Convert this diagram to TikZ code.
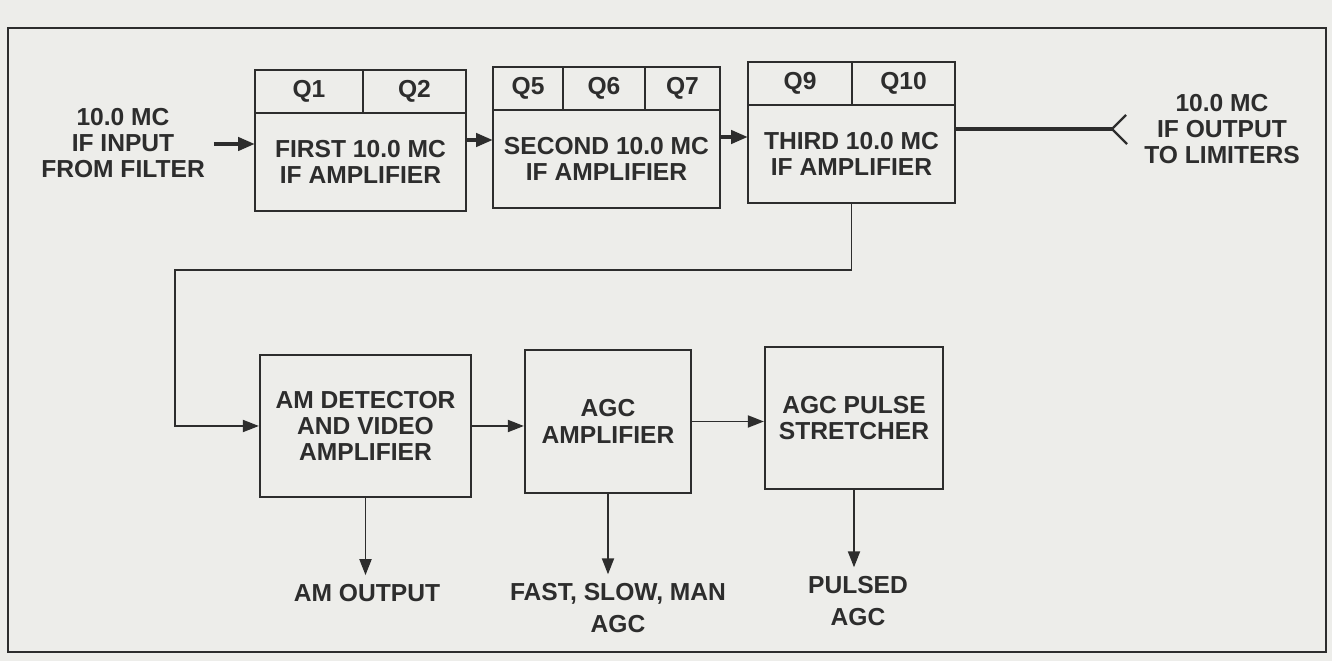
\documentclass[tikz,border=0pt]{standalone}
\usepackage{fontspec}
\setmainfont{Liberation Sans}
\usetikzlibrary{arrows.meta,positioning}
\definecolor{paper}{RGB}{237,237,234}
\definecolor{ink}{RGB}{45,45,45}
\begin{document}
\begin{tikzpicture}[
    x=0.02cm, y=-0.02cm,
    myblock/.style={draw=ink, line width=1.3pt, inner sep=0pt, align=center, text=ink,
        font=\fontsize{14}{15}\selectfont\bfseries},
    mycell/.style={myblock, outer sep=0pt, minimum height=0.86cm, anchor=south west},
    mylabel/.style={align=center, text=ink, inner sep=5pt,
        font=\fontsize{14}{15}\selectfont\bfseries},
    myarrow/.style={-{Triangle[length=3.2mm,width=2.4mm]}, draw=ink, line width=1.1pt},
    mythick/.style={-{Triangle[length=3.4mm,width=2.6mm]}, draw=ink, line width=2.4pt}
]
    % Paper and frame
    \useasboundingbox (0,0) rectangle (1332,661);
    \fill[paper] (0,0) rectangle (1332,661);
    \draw[ink, line width=1.1pt] (8,28) rectangle (1326,652);

    % IF amplifier chain
    \node[myblock, outer sep=0pt, minimum width=4.22cm, minimum height=1.96cm] (first) at (360.5,162) {FIRST 10.0 MC\\IF AMPLIFIER};
    \node[mycell, minimum width=2.16cm] (q1) at (first.north west) {Q1};
    \node[mycell, minimum width=2.06cm] (q2) at (q1.south east) {Q2};

    \node[myblock, outer sep=0pt, minimum width=4.54cm, minimum height=1.96cm] (second) at (606.5,159) {SECOND 10.0 MC\\IF AMPLIFIER};
    \node[mycell, minimum width=1.40cm] (q5) at (second.north west) {Q5};
    \node[mycell, minimum width=1.64cm] (q6) at (q5.south east) {Q6};
    \node[mycell, minimum width=1.50cm] (q7) at (q6.south east) {Q7};

    \node[myblock, outer sep=0pt, minimum width=4.14cm, minimum height=1.96cm] (third) at (851.5,154) {THIRD 10.0 MC\\IF AMPLIFIER};
    \node[mycell, minimum width=2.08cm] (q9) at (third.north west) {Q9};
    \node[mycell, minimum width=2.06cm] (q10) at (q9.south east) {Q10};

    % Detector and AGC chain
    \node[myblock, minimum width=4.22cm, minimum height=2.84cm] (amdet) at (365.5,426) {AM DETECTOR\\AND VIDEO\\AMPLIFIER};
    \node[myblock, minimum width=3.32cm, minimum height=2.86cm] (agcamp) at (608,421.5) {AGC\\AMPLIFIER};
    \node[myblock, minimum width=3.56cm, minimum height=2.84cm] (stretch) at (854,418) {AGC PULSE\\STRETCHER};

    % Inputs and outputs
    \node[mylabel] (ifin) at (123,143) {10.0 MC\\IF INPUT\\FROM FILTER};
    \node[mylabel] (ifout) at (1222,129) {10.0 MC\\IF OUTPUT\\TO LIMITERS};
    \node[mylabel] (amout) at (367,593) {AM OUTPUT};
    \node[mylabel, font=\fontsize{14}{18}\selectfont\bfseries] (agcout) at (618,608) {FAST, SLOW, MAN\\AGC};
    \node[mylabel, font=\fontsize{14}{18}\selectfont\bfseries] (pulsed) at (858,601) {PULSED\\AGC};

    \coordinate (outtip) at (1112,129);
    \coordinate (bend) at (175,270);

    % Connectors
    \draw[mythick] (ifin.east |- 0,144) -- (ifin.east |- 0,144 -| first.west);
    \draw[mythick] ([yshift=0.44cm]first.east) -- ([yshift=0.44cm]first.east -| second.west);
    \draw[mythick] ([yshift=0.44cm]second.east) -- ([yshift=0.44cm]second.east -| third.west);
    \draw[ink, line width=2.4pt] (outtip -| third.east) -- (outtip);
    \draw[ink, line width=1.3pt] (outtip) -- ++(14,-14) (outtip) -- ++(15,15);

    \draw[myarrow] (third.south) |- (bend) |- (amdet.west);
    \draw[myarrow] (amdet.east) -- (amdet.east -| agcamp.west);
    \draw[myarrow] (agcamp.east) -- (agcamp.east -| stretch.west);

    \draw[myarrow] (amdet.south) -- (amdet.south |- amout.north);
    \draw[myarrow] (agcamp.south) -- (agcamp.south |- agcout.north);
    \draw[myarrow] (stretch.south) -- (stretch.south |- pulsed.north);
\end{tikzpicture}
\end{document}
